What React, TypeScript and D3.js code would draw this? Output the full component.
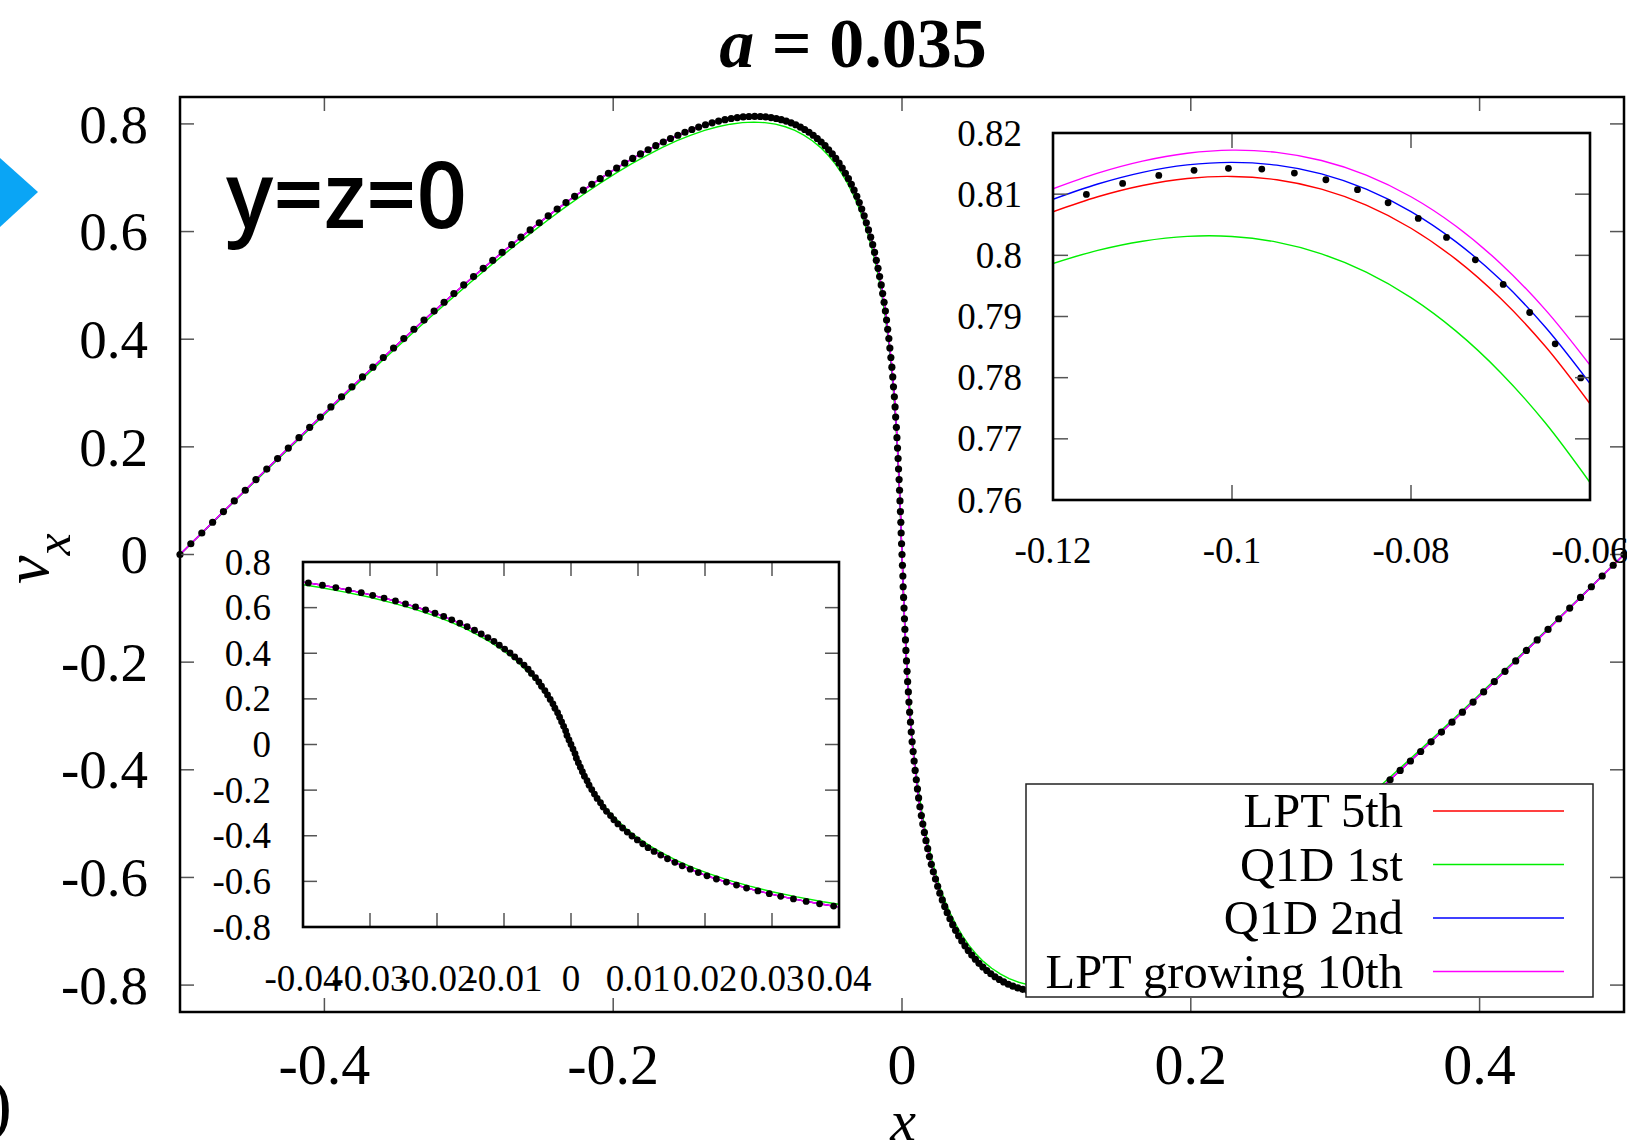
import React from "react";
import * as d3 from "d3";

// ---------------- DATA ----------------
// Simulation points (black dots), main panel: x and v_x
const simX = [
  -0.5, -0.4925, -0.4849, -0.4774, -0.4699, -0.4624, -0.4548, -0.4474, -0.4399, -0.4324,
  -0.4250, -0.4176, -0.4102, -0.4028, -0.3955, -0.3881, -0.3809, -0.3736, -0.3664, -0.3592,
  -0.3521, -0.3450, -0.3380, -0.3310, -0.3240, -0.3171, -0.3103, -0.3035, -0.2967, -0.2900,
  -0.2834, -0.2769, -0.2703, -0.2639, -0.2575, -0.2512, -0.2450, -0.2388, -0.2327, -0.2267,
  -0.2207, -0.2148, -0.2090, -0.2033, -0.1976, -0.1920, -0.1865, -0.1811, -0.1758, -0.1705,
  -0.1653, -0.1603, -0.1552, -0.1503, -0.1455, -0.1408, -0.1361, -0.1315, -0.1270, -0.1226,
  -0.1183, -0.1141, -0.1100, -0.1060, -0.1020, -0.0981, -0.0944, -0.0907, -0.0871, -0.0836,
  -0.0802, -0.0768, -0.0736, -0.0704, -0.0674, -0.0644, -0.0615, -0.0587, -0.0560, -0.0533,
  -0.0508, -0.0483, -0.0459, -0.0436, -0.0414, -0.0392, -0.0371, -0.0351, -0.0332, -0.0313,
  -0.0296, -0.0279, -0.0262, -0.0247, -0.0232, -0.0217, -0.0203, -0.0190, -0.0178, -0.0166,
  -0.0155, -0.0144, -0.0134, -0.0124, -0.0115, -0.0107, -0.0099, -0.0091, -0.0084, -0.0077,
  -0.0070, -0.0064, -0.0059, -0.0053, -0.0048, -0.0044, -0.0039, -0.0035, -0.0031, -0.0027,
  -0.0024, -0.0020, -0.0017, -0.0014, -0.0011, -0.0008, -0.0006, -0.0003, 0,
  0.0003, 0.0006, 0.0008, 0.0011, 0.0014, 0.0017, 0.0020, 0.0024,
  0.0027, 0.0031, 0.0035, 0.0039, 0.0044, 0.0048, 0.0053, 0.0059, 0.0064, 0.0070,
  0.0077, 0.0084, 0.0091, 0.0099, 0.0107, 0.0115, 0.0124, 0.0134, 0.0144, 0.0155,
  0.0166, 0.0178, 0.0190, 0.0203, 0.0217, 0.0232, 0.0247, 0.0262, 0.0279, 0.0296,
  0.0313, 0.0332, 0.0351, 0.0371, 0.0392, 0.0414, 0.0436, 0.0459, 0.0483, 0.0508,
  0.0533, 0.0560, 0.0587, 0.0615, 0.0644, 0.0674, 0.0704, 0.0736, 0.0768, 0.0802,
  0.0836, 0.0871, 0.0907, 0.0944, 0.0981, 0.1020, 0.1060, 0.1100, 0.1141, 0.1183,
  0.1226, 0.1270, 0.1315, 0.1361, 0.1408, 0.1455, 0.1503, 0.1552, 0.1603, 0.1653,
  0.1705, 0.1758, 0.1811, 0.1865, 0.1920, 0.1976, 0.2033, 0.2090, 0.2148, 0.2207,
  0.2267, 0.2327, 0.2388, 0.2450, 0.2512, 0.2575, 0.2639, 0.2703, 0.2769, 0.2834,
  0.2900, 0.2967, 0.3035, 0.3103, 0.3171, 0.3240, 0.3310, 0.3380, 0.3450, 0.3521,
  0.3592, 0.3664, 0.3736, 0.3809, 0.3881, 0.3955, 0.4028, 0.4102, 0.4176, 0.4250,
  0.4324, 0.4399, 0.4474, 0.4548, 0.4624, 0.4699, 0.4774, 0.4849, 0.4925, 0.5,
];
const simV = [
  0, 0.0200, 0.0399, 0.0599, 0.0798, 0.0996, 0.1194, 0.1392, 0.1588, 0.1783,
  0.1978, 0.2171, 0.2363, 0.2553, 0.2742, 0.2930, 0.3115, 0.3299, 0.3480, 0.3660,
  0.3837, 0.4012, 0.4185, 0.4355, 0.4522, 0.4687, 0.4849, 0.5008, 0.5164, 0.5317,
  0.5466, 0.5613, 0.5756, 0.5895, 0.6031, 0.6164, 0.6292, 0.6417, 0.6538, 0.6655,
  0.6768, 0.6877, 0.6982, 0.7083, 0.7179, 0.7271, 0.7358, 0.7442, 0.7520, 0.7595,
  0.7664, 0.7729, 0.7789, 0.7845, 0.7896, 0.7942, 0.7984, 0.8020, 0.8052, 0.8079,
  0.8101, 0.8118, 0.8130, 0.8138, 0.8140, 0.8138, 0.8130, 0.8118, 0.8101, 0.8079,
  0.8052, 0.8020, 0.7984, 0.7942, 0.7896, 0.7845, 0.7789, 0.7729, 0.7664, 0.7595,
  0.7520, 0.7442, 0.7358, 0.7271, 0.7179, 0.7083, 0.6982, 0.6877, 0.6768, 0.6655,
  0.6538, 0.6417, 0.6292, 0.6164, 0.6031, 0.5895, 0.5756, 0.5613, 0.5466, 0.5317,
  0.5164, 0.5008, 0.4849, 0.4687, 0.4522, 0.4355, 0.4185, 0.4012, 0.3837, 0.3660,
  0.3480, 0.3299, 0.3115, 0.2930, 0.2742, 0.2553, 0.2363, 0.2171, 0.1978, 0.1783,
  0.1588, 0.1392, 0.1194, 0.0996, 0.0798, 0.0599, 0.0399, 0.0200, 0,
  -0.0200, -0.0399, -0.0599, -0.0798, -0.0996, -0.1194, -0.1392, -0.1588,
  -0.1783, -0.1978, -0.2171, -0.2363, -0.2553, -0.2742, -0.2930, -0.3115, -0.3299, -0.3480,
  -0.3660, -0.3837, -0.4012, -0.4185, -0.4355, -0.4522, -0.4687, -0.4849, -0.5008, -0.5164,
  -0.5317, -0.5466, -0.5613, -0.5756, -0.5895, -0.6031, -0.6164, -0.6292, -0.6417, -0.6538,
  -0.6655, -0.6768, -0.6877, -0.6982, -0.7083, -0.7179, -0.7271, -0.7358, -0.7442, -0.7520,
  -0.7595, -0.7664, -0.7729, -0.7789, -0.7845, -0.7896, -0.7942, -0.7984, -0.8020, -0.8052,
  -0.8079, -0.8101, -0.8118, -0.8130, -0.8138, -0.8140, -0.8138, -0.8130, -0.8118, -0.8101,
  -0.8079, -0.8052, -0.8020, -0.7984, -0.7942, -0.7896, -0.7845, -0.7789, -0.7729, -0.7664,
  -0.7595, -0.7520, -0.7442, -0.7358, -0.7271, -0.7179, -0.7083, -0.6982, -0.6877, -0.6768,
  -0.6655, -0.6538, -0.6417, -0.6292, -0.6164, -0.6031, -0.5895, -0.5756, -0.5613, -0.5466,
  -0.5317, -0.5164, -0.5008, -0.4849, -0.4687, -0.4522, -0.4355, -0.4185, -0.4012, -0.3837,
  -0.3660, -0.3480, -0.3299, -0.3115, -0.2930, -0.2742, -0.2553, -0.2363, -0.2171, -0.1978,
  -0.1783, -0.1588, -0.1392, -0.1194, -0.0996, -0.0798, -0.0599, -0.0399, -0.0200, 0,
];

// Q1D 1st (green) main curve
const q1d1X = [
  -0.5, -0.4850, -0.4699, -0.4549, -0.4400, -0.4251, -0.4103, -0.3957, -0.3811, -0.3667,
  -0.3524, -0.3383, -0.3244, -0.3106, -0.2971, -0.2838, -0.2708, -0.2580, -0.2454, -0.2332,
  -0.2212, -0.2095, -0.1981, -0.1871, -0.1763, -0.1659, -0.1558, -0.1461, -0.1367, -0.1276,
  -0.1189, -0.1106, -0.1026, -0.0950, -0.0877, -0.0808, -0.0742, -0.0680, -0.0621, -0.0565,
  -0.0513, -0.0464, -0.0419, -0.0376, -0.0337, -0.0300, -0.0267, -0.0236, -0.0208, -0.0182,
  -0.0159, -0.0138, -0.0119, -0.0102, -0.0086, -0.0073, -0.0061, -0.0050, -0.0041, -0.0032,
  -0.0025, -0.0018, -0.0012, -0.0006, 0,
  0.0006, 0.0012, 0.0018, 0.0025, 0.0032, 0.0041, 0.0050, 0.0061, 0.0073, 0.0086,
  0.0102, 0.0119, 0.0138, 0.0159, 0.0182, 0.0208, 0.0236, 0.0267, 0.0300, 0.0337,
  0.0376, 0.0419, 0.0464, 0.0513, 0.0565, 0.0621, 0.0680, 0.0742, 0.0808, 0.0877,
  0.0950, 0.1026, 0.1106, 0.1189, 0.1276, 0.1367, 0.1461, 0.1558, 0.1659, 0.1763,
  0.1871, 0.1981, 0.2095, 0.2212, 0.2332, 0.2454, 0.2580, 0.2708, 0.2838, 0.2971,
  0.3106, 0.3244, 0.3383, 0.3524, 0.3667, 0.3811, 0.3957, 0.4103, 0.4251, 0.4400,
  0.4549, 0.4699, 0.4850, 0.5,
];
const q1d1V = [
  0, 0.0394, 0.0787, 0.1179, 0.1567, 0.1952, 0.2332, 0.2707, 0.3074, 0.3435,
  0.3787, 0.4130, 0.4463, 0.4786, 0.5097, 0.5395, 0.5681, 0.5953, 0.6210, 0.6453,
  0.6680, 0.6891, 0.7085, 0.7263, 0.7422, 0.7564, 0.7688, 0.7793, 0.7880, 0.7947,
  0.7995, 0.8024, 0.8034, 0.8024, 0.7995, 0.7947, 0.7880, 0.7793, 0.7688, 0.7564,
  0.7422, 0.7263, 0.7085, 0.6891, 0.6680, 0.6453, 0.6210, 0.5953, 0.5681, 0.5395,
  0.5097, 0.4786, 0.4463, 0.4130, 0.3787, 0.3435, 0.3074, 0.2707, 0.2332, 0.1952,
  0.1567, 0.1179, 0.0787, 0.0394, 0,
  -0.0394, -0.0787, -0.1179, -0.1567, -0.1952, -0.2332, -0.2707, -0.3074, -0.3435, -0.3787,
  -0.4130, -0.4463, -0.4786, -0.5097, -0.5395, -0.5681, -0.5953, -0.6210, -0.6453, -0.6680,
  -0.6891, -0.7085, -0.7263, -0.7422, -0.7564, -0.7688, -0.7793, -0.7880, -0.7947, -0.7995,
  -0.8024, -0.8034, -0.8024, -0.7995, -0.7947, -0.7880, -0.7793, -0.7688, -0.7564, -0.7422,
  -0.7263, -0.7085, -0.6891, -0.6680, -0.6453, -0.6210, -0.5953, -0.5681, -0.5395, -0.5097,
  -0.4786, -0.4463, -0.4130, -0.3787, -0.3435, -0.3074, -0.2707, -0.2332, -0.1952, -0.1567,
  -0.1179, -0.0787, -0.0394, 0,
];

// Top-right inset (zoom on the maximum)
const zoomX = [-0.12, -0.115, -0.11, -0.105, -0.1, -0.095, -0.09, -0.085, -0.08, -0.075, -0.07, -0.065, -0.06];
const lpt5Zoom = [0.80713, 0.80958, 0.81142, 0.81256, 0.8129, 0.81235, 0.81082, 0.80821, 0.80443, 0.79938, 0.79298, 0.78513, 0.77573];
const q1d1Zoom = [0.79867, 0.80081, 0.80231, 0.8031, 0.80308, 0.80216, 0.80025, 0.79725, 0.79308, 0.78765, 0.78086, 0.77262, 0.76285];
const q1d2Zoom = [0.80916, 0.81166, 0.81357, 0.81478, 0.8152, 0.81474, 0.81332, 0.81082, 0.80716, 0.80225, 0.79599, 0.78828, 0.77904];
const lptg10Zoom = [0.81088, 0.81344, 0.8154, 0.81669, 0.8172, 0.81683, 0.8155, 0.81312, 0.80958, 0.8048, 0.79867, 0.79112, 0.78204];
const simZoomX = [-0.11627, -0.11222, -0.10818, -0.10424, -0.1004, -0.09667, -0.09303, -0.08951, -0.08598, -0.08256, -0.07919, -0.07603, -0.07281, -0.0697, -0.06674, -0.06389, -0.06104];
const simZoomV = [0.80996, 0.81176, 0.81307, 0.81389, 0.81422, 0.81411, 0.81345, 0.81236, 0.81073, 0.8086, 0.80604, 0.80293, 0.79927, 0.79524, 0.79065, 0.78553, 0.77996];

// Ticks
const mainXTicks = [-0.4, -0.2, 0, 0.2, 0.4];
const mainYTicks = [-0.8, -0.6, -0.4, -0.2, 0, 0.2, 0.4, 0.6, 0.8];
const topXTicks = [-0.12, -0.1, -0.08, -0.06];
const topYTicks = [0.76, 0.77, 0.78, 0.79, 0.8, 0.81, 0.82];
const lowXTicks = [-0.04, -0.03, -0.02, -0.01, 0, 0.01, 0.02, 0.03, 0.04];
const lowYTicks = [-0.8, -0.6, -0.4, -0.2, 0, 0.2, 0.4, 0.6, 0.8];

const legendLabels = ["LPT 5th", "Q1D 1st", "Q1D 2nd", "LPT growing 10th"];
const seriesColors = ["#ff0000", "#00ee00", "#0000ff", "#ff00ff"];

// ---------------- RENDER ----------------
const SERIF = "'Liberation Serif', 'Times New Roman', Times, serif";
const TICK = "#555";

const fmt = (v: number) => {
  const s = String(Math.round(v * 1000) / 1000);
  return s === "-0" ? "0" : s;
};

type Scale = d3.ScaleLinear<number, number>;

function Axes(props: {
  xs: Scale; ys: Scale; xTicks: number[]; yTicks: number[];
  tickLen: number; fontSize: number; xFontSize?: number; xLabelBaseline: number; yLabelRight: number; frameW: number;
}) {
  const { xs, ys, xTicks, yTicks, tickLen, fontSize, xLabelBaseline, yLabelRight, frameW } = props;
  const xFont = props.xFontSize || fontSize;
  const [x0, x1] = xs.range();
  const [yb, yt] = ys.range();
  return (
    <g>
      {xTicks.map((t, i) => (
        <g key={"xt" + i}>
          <line x1={xs(t)} x2={xs(t)} y1={yb} y2={yb - tickLen} stroke={TICK} strokeWidth={1.5} />
          <line x1={xs(t)} x2={xs(t)} y1={yt} y2={yt + tickLen} stroke={TICK} strokeWidth={1.5} />
        </g>
      ))}
      {yTicks.map((t, i) => (
        <g key={"yt" + i}>
          <line x1={x0} x2={x0 + tickLen} y1={ys(t)} y2={ys(t)} stroke={TICK} strokeWidth={1.5} />
          <line x1={x1} x2={x1 - tickLen} y1={ys(t)} y2={ys(t)} stroke={TICK} strokeWidth={1.5} />
        </g>
      ))}
      <rect x={x0} y={yt} width={x1 - x0} height={yb - yt} fill="none" stroke="#000" strokeWidth={frameW} />
      {xTicks.map((t, i) => (
        <text key={"xl" + i} x={xs(t)} y={xLabelBaseline} textAnchor="middle" fontSize={xFont} fontFamily={SERIF}>
          {fmt(t)}
        </text>
      ))}
      {yTicks.map((t, i) => (
        <text key={"yl" + i} x={yLabelRight} y={ys(t)} dy="0.34em" textAnchor="end" fontSize={fontSize} fontFamily={SERIF}>
          {fmt(t)}
        </text>
      ))}
    </g>
  );
}

export default function App() {
  const sim = simX.map((x, i) => ({ x, v: simV[i] }));
  const green = q1d1X.map((x, i) => ({ x, v: q1d1V[i] }));

  // Main panel
  const xM = d3.scaleLinear().domain([-0.5, 0.5]).range([180, 1624]);
  const yM = d3.scaleLinear().domain([-0.85, 0.85]).range([1012, 97]);
  const lineM = d3.line<{ x: number; v: number }>().x((d) => xM(d.x)).y((d) => yM(d.v));

  // Lower-left inset
  const xL = d3.scaleLinear().domain([-0.04, 0.04]).range([303, 839]);
  const yL = d3.scaleLinear().domain([-0.8, 0.8]).range([927, 562]);
  const lineL = d3.line<{ x: number; v: number }>().x((d) => xL(d.x)).y((d) => yL(d.v));
  const simLow = sim.filter((d) => d.x >= -0.0405 && d.x <= 0.0405);

  // Top-right inset
  const xT = d3.scaleLinear().domain([-0.12, -0.06]).range([1053, 1590]);
  const yT = d3.scaleLinear().domain([0.76, 0.82]).range([500, 133]);
  const lineT = d3
    .line<number>()
    .x((_, i) => xT(zoomX[i]))
    .y((d) => yT(d))
    .curve(d3.curveCatmullRom);
  const zoomSeries = [lpt5Zoom, q1d1Zoom, q1d2Zoom, lptg10Zoom];

  const mainSeriesPaths = [lineM(sim), lineM(green), lineM(sim), lineM(sim)];
  const lowSeriesPaths = [lineL(sim), lineL(green), lineL(sim), lineL(sim)];

  const R = 3.4;

  return (
    <svg
      width={1627}
      height={1144}
      viewBox="0 0 1627 1144"
      style={{ position: "absolute", left: 0, top: 0, background: "#fff" }}
    >
      <defs>
        <clipPath id="clipMain">
          <rect x={180} y={97} width={1444} height={915} />
        </clipPath>
        <clipPath id="clipLow">
          <rect x={303} y={562} width={536} height={365} />
        </clipPath>
        <clipPath id="clipTop">
          <rect x={1053} y={133} width={537} height={367} />
        </clipPath>
      </defs>
      <rect x={0} y={0} width={1627} height={1144} fill="#fff" />

      {/* Main panel curves */}
      <g clipPath="url(#clipMain)">
        {mainSeriesPaths.map((p, i) => (
          <path key={"mp" + i} d={p || ""} fill="none" stroke={seriesColors[i]} strokeWidth={1.4} />
        ))}
      </g>
      <g>
        {sim.map((d, i) => (
          <circle key={"md" + i} cx={xM(d.x)} cy={yM(d.v)} r={3.6} fill="#000" />
        ))}
      </g>
      <Axes xs={xM} ys={yM} xTicks={mainXTicks} yTicks={mainYTicks} tickLen={14} fontSize={55} xFontSize={58}
        xLabelBaseline={1084} yLabelRight={148} frameW={2.5} />

      {/* Lower-left inset */}
      <rect x={303} y={562} width={536} height={365} fill="#fff" />
      <g clipPath="url(#clipLow)">
        {lowSeriesPaths.map((p, i) => (
          <path key={"lp" + i} d={p || ""} fill="none" stroke={seriesColors[i]} strokeWidth={1.4} />
        ))}
      </g>
      {simLow.map((d, i) => (
        <circle key={"ld" + i} cx={xL(d.x)} cy={yL(d.v)} r={R} fill="#000" />
      ))}
      <Axes xs={xL} ys={yL} xTicks={lowXTicks} yTicks={lowYTicks} tickLen={14} fontSize={37}
        xLabelBaseline={991} yLabelRight={271} frameW={2.6} />

      {/* Top-right inset */}
      <rect x={1053} y={133} width={537} height={367} fill="#fff" />
      <g clipPath="url(#clipTop)">
        {zoomSeries.map((s, i) => (
          <path key={"tp" + i} d={lineT(s) || ""} fill="none" stroke={seriesColors[i]} strokeWidth={1.4} />
        ))}
      </g>
      {simZoomX.map((x, i) => (
        <circle key={"td" + i} cx={xT(x)} cy={yT(simZoomV[i])} r={R} fill="#000" />
      ))}
      <Axes xs={xT} ys={yT} xTicks={topXTicks} yTicks={topYTicks} tickLen={15} fontSize={37}
        xLabelBaseline={563} yLabelRight={1022} frameW={2.6} />

      {/* Legend */}
      <rect x={1026} y={784} width={567} height={213} fill="#fff" stroke="#222" strokeWidth={1.5} />
      {legendLabels.map((lab, i) => {
        const yy = 811 + i * 53.5;
        return (
          <g key={"lg" + i}>
            <text x={1403} y={yy + 16} textAnchor="end" fontSize={48.5} fontFamily={SERIF}>{lab}</text>
            <line x1={1433} x2={1564} y1={yy} y2={yy} stroke={seriesColors[i]} strokeWidth={1.4} />
          </g>
        );
      })}

      {/* Title and annotations */}
      <text x={853} y={67} textAnchor="middle" fontSize={70} fontWeight="bold" fontFamily={SERIF}>
        <tspan fontStyle="italic">a</tspan> = 0.035
      </text>
      <text x={226} y={228} fontSize={92} fontWeight={600} fontFamily="'Open Sans', Lato, sans-serif" textLength={241}
        lengthAdjust="spacingAndGlyphs">y=z=0</text>
      <text transform="translate(48,584) rotate(-90)" fontFamily={SERIF} fontStyle="italic">
        <tspan fontSize={64}>v</tspan>
        <tspan fontSize={50} dy={22}>x</tspan>
      </text>
      <text x={903} y={1140} textAnchor="middle" fontSize={58} fontStyle="italic" fontFamily={SERIF}>x</text>
      <polygon points="0,158 38,192 0,227" fill="#0aa5f5" />
      <text x={12} y={1128} textAnchor="end" fontSize={72} fontFamily={SERIF}>)</text>
    </svg>
  );
}
